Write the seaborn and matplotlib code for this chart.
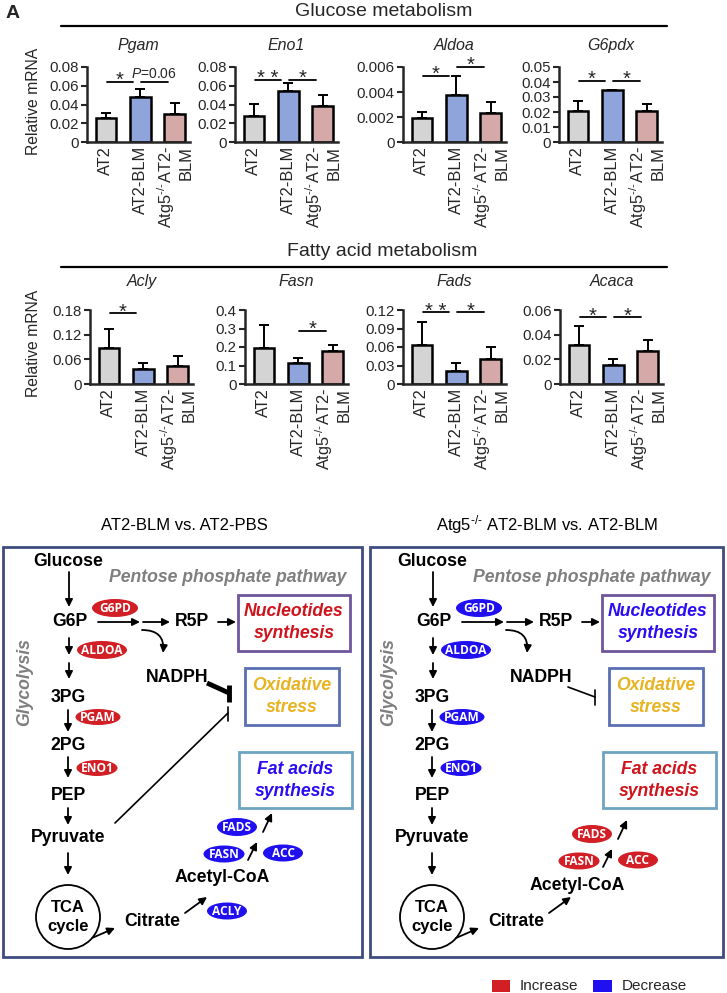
import numpy as np
import pandas as pd
import matplotlib
matplotlib.use('Agg')
import matplotlib.pyplot as plt
import seaborn as sns
from matplotlib.patches import Ellipse, Rectangle, Circle

# ------------------------------------------------------------------ data
groups = ['AT2', 'AT2-BLM', 'Atg5$^{\\text{-/-}}$AT2-\nBLM']
bar_colors = ['#d4d4d4', '#8ea4db', '#d6a9a9']

glucose_genes = ['Pgam', 'Eno1', 'Aldoa', 'G6pdx']
fatty_genes = ['Acly', 'Fasn', 'Fads', 'Acaca']

pgam_mean = [0.0256, 0.048, 0.030]
pgam_err = [0.0054, 0.0085, 0.0116]
eno1_mean = [0.0277, 0.0544, 0.0384]
eno1_err = [0.0128, 0.0086, 0.0116]
aldoa_mean = [0.00192, 0.00378, 0.0023]
aldoa_err = [0.00046, 0.00152, 0.00088]
g6pdx_mean = [0.0205, 0.0349, 0.0209]
g6pdx_err = [0.0070, 0.0, 0.0044]
acly_mean = [0.0868, 0.0357, 0.0438]
acly_err = [0.046, 0.0143, 0.024]
fasn_mean = [0.194, 0.1125, 0.176]
fasn_err = [0.127, 0.0285, 0.035]
fads_mean = [0.0632, 0.0216, 0.0405]
fads_err = [0.0368, 0.013, 0.019]
acaca_mean = [0.0315, 0.0151, 0.027]
acaca_err = [0.0158, 0.0053, 0.0087]

pgam_ticks = [0, 0.02, 0.04, 0.06, 0.08]
eno1_ticks = [0, 0.02, 0.04, 0.06, 0.08]
aldoa_ticks = [0, 0.002, 0.004, 0.006]
g6pdx_ticks = [0, 0.01, 0.02, 0.03, 0.04, 0.05]
acly_ticks = [0, 0.06, 0.12, 0.18]
fasn_ticks = [0, 0.1, 0.2, 0.3, 0.4]
fads_ticks = [0, 0.03, 0.06, 0.09, 0.12]
acaca_ticks = [0, 0.02, 0.04, 0.06]

# significance: (group i, group j, label, height)
pgam_sig = [(0, 1, '*', 0.064), (1, 2, '$P$=0.06', 0.064)]
eno1_sig = [(0, 1, '**', 0.066), (1, 2, '*', 0.066)]
aldoa_sig = [(0, 1, '*', 0.00528), (1, 2, '*', 0.0060)]
g6pdx_sig = [(0, 1, '*', 0.0407), (1, 2, '*', 0.0407)]
acly_sig = [(0, 1, '*', 0.172)]
fasn_sig = [(1, 2, '*', 0.289)]
fads_sig = [(0, 1, '**', 0.116), (1, 2, '*', 0.116)]
acaca_sig = [(0, 1, '*', 0.054), (1, 2, '*', 0.054)]

# pathway enzyme changes (up / down) for the two comparisons
panel1_changes = {'G6PD': 'up', 'ALDOA': 'up', 'PGAM': 'up', 'ENO1': 'up',
                  'FADS': 'down', 'FASN': 'down', 'ACC': 'down', 'ACLY': 'down'}
panel2_changes = {'G6PD': 'down', 'ALDOA': 'down', 'PGAM': 'down', 'ENO1': 'down',
                  'FADS': 'up', 'FASN': 'up', 'ACC': 'up'}

# ------------------------------------------------------------------ style
sns.set_theme(style='ticks')
plt.rcParams['font.family'] = ['Liberation Sans', 'DejaVu Sans']
plt.rcParams['mathtext.fontset'] = 'custom'
plt.rcParams['mathtext.rm'] = 'Liberation Sans'
plt.rcParams['mathtext.it'] = 'Liberation Sans:italic'
plt.rcParams['mathtext.bf'] = 'Liberation Sans:bold'
plt.rcParams['mathtext.sf'] = 'Liberation Sans'

W, H = 727, 993
fig = plt.figure(figsize=(W / 100, H / 100), dpi=100)
fig.patch.set_facecolor('white')


def rect_px(left, top, width, bottom):
    return [left / W, 1 - bottom / H, width / W, (bottom - top) / H]


def fmt(v):
    return '0' if v == 0 else f'{v:g}'


def draw_bar(ax, title, means, errs, ticks, sigs, title_pad):
    df = pd.DataFrame({'group': groups, 'value': means})
    sns.barplot(data=df, x='group', y='value', hue='group', order=groups,
                hue_order=groups, palette=dict(zip(groups, bar_colors)),
                width=0.6, saturation=1, edgecolor='black', linewidth=1.8,
                errorbar=None, legend=False, ax=ax)
    xs = np.arange(len(groups))
    ax.errorbar(xs, means, yerr=[np.zeros(len(means)), errs], fmt='none',
                ecolor='black', elinewidth=1.4, capsize=3.5, capthick=1.4,
                zorder=1)
    ax.set_xlim(-0.55, 2.45)
    ax.set_ylim(0, ticks[-1])
    ax.set_yticks(ticks)
    ax.set_yticklabels([fmt(t) for t in ticks])
    ax.set_xticks(xs)
    ax.set_xticklabels(groups, rotation=90, ha='center', va='top',
                       multialignment='right', fontsize=11.8)
    ax.set_xlabel('')
    ax.set_ylabel('')
    ax.set_title(title, style='italic', fontsize=11.5, pad=title_pad)
    sns.despine(ax=ax)
    for s in ['left', 'bottom']:
        ax.spines[s].set_linewidth(1.8)
    ax.tick_params(axis='y', direction='out', length=4, width=1.5,
                   labelsize=10.8, pad=2)
    ax.tick_params(axis='x', length=0, pad=3)
    ax.set_facecolor('none')
    for (i, j, txt, y) in sigs:
        x1, x2 = i + 0.02, j - 0.2
        ax.plot([x1, x2], [y, y], color='black', lw=1.3, clip_on=False)
        if txt.startswith('$P'):
            ax.annotate(txt, xy=((x1 + x2) / 2, y), xytext=(0, 1),
                        textcoords='offset points', ha='center', va='bottom',
                        fontsize=10, annotation_clip=False)
        else:
            ax.annotate(' '.join(txt), xy=((x1 + x2) / 2, y), xytext=(0, -3),
                        textcoords='offset points', ha='center', va='baseline',
                        fontsize=14.5, annotation_clip=False)


# overlay axes in pixel coordinates for headers and pathway diagram
dax = fig.add_axes([0, 0, 1, 1], zorder=5)
dax.set_xlim(0, W)
dax.set_ylim(H, 0)
dax.axis('off')
dax.patch.set_visible(False)

row1 = dict(top=67, bottom=142, lefts=[87, 235, 403, 559])
row2 = dict(top=310, bottom=384, lefts=[90, 245, 403, 560])
AXW = 103

glucose_data = [(pgam_mean, pgam_err, pgam_ticks, pgam_sig),
                (eno1_mean, eno1_err, eno1_ticks, eno1_sig),
                (aldoa_mean, aldoa_err, aldoa_ticks, aldoa_sig),
                (g6pdx_mean, g6pdx_err, g6pdx_ticks, g6pdx_sig)]
fatty_data = [(acly_mean, acly_err, acly_ticks, acly_sig),
              (fasn_mean, fasn_err, fasn_ticks, fasn_sig),
              (fads_mean, fads_err, fads_ticks, fads_sig),
              (acaca_mean, acaca_err, acaca_ticks, acaca_sig)]

for gene, (m, e, t, s), left in zip(glucose_genes, glucose_data, row1['lefts']):
    ax = fig.add_axes(rect_px(left, row1['top'], AXW, row1['bottom']))
    draw_bar(ax, gene, m, e, t, s, title_pad=12)
for gene, (m, e, t, s), left in zip(fatty_genes, fatty_data, row2['lefts']):
    ax = fig.add_axes(rect_px(left, row2['top'], AXW, row2['bottom']))
    draw_bar(ax, gene, m, e, t, s, title_pad=17)

# headers
dax.text(6, 14, 'A', fontsize=14, weight='bold', ha='left', va='center')
dax.text(384, 11, 'Glucose metabolism', fontsize=14, ha='center', va='center')
dax.plot([61, 667], [26, 26], color='black', lw=1.6)
dax.text(382, 252, 'Fatty acid metabolism', fontsize=14, ha='center', va='center')
dax.plot([61, 667], [267, 267], color='black', lw=1.6)
dax.text(34, 101, 'Relative mRNA', fontsize=11.3, rotation=90, ha='center', va='center')
dax.text(34, 343, 'Relative mRNA', fontsize=11.3, rotation=90, ha='center', va='center')

# ------------------------------------------------------------------ pathway diagrams
RED = '#d21f26'
BLUE = '#2010f0'
RED_TXT = '#d0141c'
BLUE_TXT = '#2a0cf5'
GOLD = '#e8b320'
GRAY = '#7f7f7f'
CHANGE_COLOR = {'up': RED, 'down': BLUE}


def arrow(x1, y1, x2, y2, rad=0.0, lw=1.3):
    dax.annotate('', xy=(x2, y2), xytext=(x1, y1),
                 arrowprops=dict(arrowstyle='-|>', color='black', lw=lw,
                                 mutation_scale=11, shrinkA=0, shrinkB=0,
                                 connectionstyle=f'arc3,rad={rad}'))


def word(x, y, s, size=12.7, color='black', style='normal', weight='bold', **kw):
    dax.text(x, y, s, ha='center', va='center', fontsize=size, color=color,
             style=style, weight=weight, **kw)


def enzyme(x, y, name, change, w=42, h=17):
    dax.add_patch(Ellipse((x, y), w, h, facecolor=CHANGE_COLOR[change], edgecolor='none'))
    dax.text(x, y + 0.5, name, ha='center', va='center', fontsize=8.6, color='white',
             weight='bold', family=['Open Sans', 'DejaVu Sans'])


def box(x0, y0, x1, y1, ec, lw=2.0):
    dax.add_patch(Rectangle((x0, y0), x1 - x0, y1 - y0, fill=False, ec=ec, lw=lw))


def draw_panel(ox, changes, nucl_col, fat_col, thick_nadph, pyruvate_inhib, fdx, fdy):
    word(ox + 68, 562, 'Glucose')
    arrow(ox + 69, 572, ox + 69, 607)
    word(ox + 228, 578, 'Pentose phosphate pathway', color=GRAY, style='italic')
    word(ox + 25, 682, 'Glycolysis', color=GRAY, style='italic', rotation=90)
    word(ox + 70, 622, 'G6P')
    enzyme(ox + 115, 608, 'G6PD', changes['G6PD'], w=46, h=18)
    arrow(ox + 98, 622, ox + 140, 622)
    arrow(ox + 143, 622, ox + 170, 622)
    word(ox + 192, 622, 'R5P')
    arrow(ox + 218, 622, ox + 236, 622)
    box(ox + 238, 595, ox + 350, 651, '#6f559a')
    word(ox + 294, 612, 'Nucleotides', color=nucl_col, style='italic')
    word(ox + 294, 634, 'synthesis', color=nucl_col, style='italic')
    arrow(ox + 142, 630, ox + 163, 653, rad=-0.55)
    enzyme(ox + 102, 650, 'ALDOA', changes['ALDOA'], w=50, h=18)
    arrow(ox + 69, 638, ox + 69, 655)
    arrow(ox + 69, 663, ox + 69, 679)
    word(ox + 177, 677, 'NADPH')
    if thick_nadph:
        dax.plot([ox + 207, ox + 229], [683, 693], color='black', lw=3.5,
                 solid_capstyle='butt')
        dax.plot([ox + 229, ox + 229], [685, 702], color='black', lw=3.5,
                 solid_capstyle='butt')
    else:
        dax.plot([ox + 204, ox + 231], [687, 697], color='black', lw=1.2)
        dax.plot([ox + 231, ox + 231], [690, 705], color='black', lw=1.2)
    box(ox + 245, 668, ox + 339, 725, '#5a6fb2')
    word(ox + 292, 686, 'Oxidative', color=GOLD, style='italic')
    word(ox + 292, 708, 'stress', color=GOLD, style='italic')
    word(ox + 68, 698, '3PG')
    enzyme(ox + 98, 717, 'PGAM', changes['PGAM'], w=45, h=16)
    arrow(ox + 68, 710, ox + 68, 732)
    word(ox + 68, 745, '2PG')
    enzyme(ox + 97, 768, 'ENO1', changes['ENO1'], w=41, h=16)
    arrow(ox + 68, 757, ox + 68, 778)
    word(ox + 68, 795, 'PEP')
    arrow(ox + 68, 808, ox + 68, 825)
    word(ox + 68, 838, 'Pyruvate')
    arrow(ox + 68, 853, ox + 68, 875)
    if pyruvate_inhib:
        dax.plot([ox + 115, ox + 228], [823, 713], color='black', lw=1.2)
        dax.plot([ox + 228, ox + 228], [707, 721], color='black', lw=1.2)
    dax.add_patch(Circle((ox + 68, 917), 32, fill=False, ec='black', lw=1.3))
    word(ox + 68, 907, 'TCA', size=12)
    word(ox + 68, 927, 'cycle', size=12)
    arrow(ox + 92, 938, ox + 115, 928, lw=1.3)
    word(ox + 152, 922, 'Citrate')
    arrow(ox + 185, 913, ox + 207, 897)
    if 'ACLY' in changes:
        enzyme(ox + 227, 911, 'ACLY', changes['ACLY'], w=40)
    word(ox + 222 + fdx, 878 + fdy, 'Acetyl-CoA')
    enzyme(ox + 224 + fdx, 854 + fdy, 'FASN', changes['FASN'], w=41)
    enzyme(ox + 283 + fdx, 853 + fdy, 'ACC', changes['ACC'], w=40)
    arrow(ox + 248 + fdx, 860 + fdy, ox + 257 + fdx, 842 + fdy)
    enzyme(ox + 237 + fdx, 827 + fdy, 'FADS', changes['FADS'], w=40, h=18)
    arrow(ox + 263 + fdx, 832 + fdy, ox + 272 + fdx, 813 + fdy)
    box(ox + 239, 752, ox + 352, 808, '#6ea3c1')
    word(ox + 295, 770, 'Fat acids', color=fat_col, style='italic')
    word(ox + 295, 792, 'synthesis', color=fat_col, style='italic')


word(184, 525, 'AT2-BLM vs. AT2-PBS', size=12, weight='normal')
word(547, 525, 'Atg5$^{\\text{-/-}}$ AT2-BLM vs. AT2-BLM', size=12, weight='normal')
box(3, 547, 362, 957, '#3e4d80', lw=2.0)
box(370, 547, 723, 957, '#3e4d80', lw=2.0)

draw_panel(0, panel1_changes, RED_TXT, BLUE_TXT, True, True, 0, 0)
draw_panel(364, panel2_changes, BLUE_TXT, RED_TXT, False, False, -9, 7)

# legend
dax.add_patch(Rectangle((492, 980), 18, 12, facecolor=RED, edgecolor='none'))
dax.text(520, 986, 'Increase', fontsize=11, ha='left', va='center')
dax.add_patch(Rectangle((593, 980), 19, 12, facecolor=BLUE, edgecolor='none'))
dax.text(622, 986, 'Decrease', fontsize=11, ha='left', va='center')

fig.savefig('out.png', dpi=100)
